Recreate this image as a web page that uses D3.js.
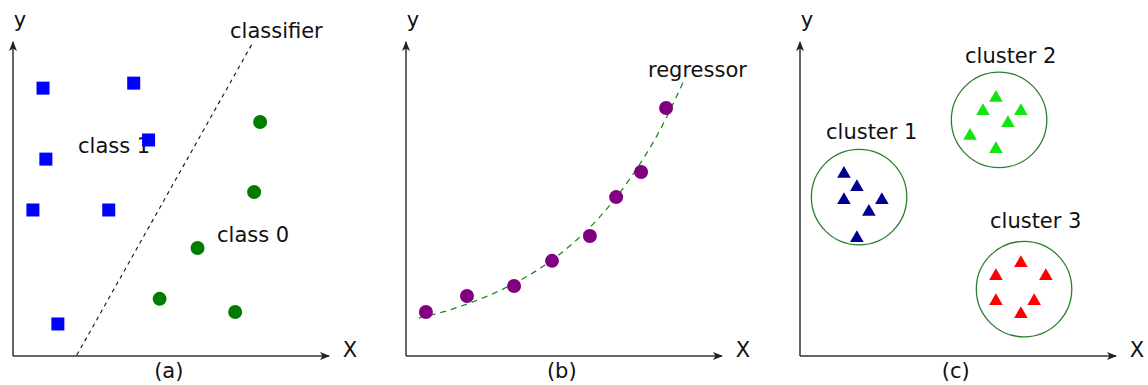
<!DOCTYPE html>
<html>
<head>
<meta charset="utf-8">
<script src="https://cdn.jsdelivr.net/npm/d3@7"></script>
<style>
  html, body { margin: 0; padding: 0; background: #fff; }
  svg { display: block; }
  text { font-family: "DejaVu Sans", sans-serif; fill: #111; }
</style>
</head>
<body>
<svg id="chart" width="1148" height="385"></svg>
<script>
// ---- data (units on a 0..10 grid for every panel) ----
const class1X = [0.95, 3.82, 4.29, 1.04, 0.63, 3.03, 1.42];
const class1Y = [8.53, 8.69, 6.88, 6.27, 4.65, 4.65, 1.02];
const class0X = [7.82, 7.63, 5.84, 4.64, 7.03];
const class0Y = [7.45, 5.22, 3.44, 1.82, 1.40];
const classifierX = [2.02, 7.60];
const classifierY = [0.03, 10.0];

const regX = [0.63, 1.93, 3.42, 4.62, 5.82, 6.65, 7.44, 8.23];
const regY = [1.40, 1.91, 2.23, 3.03, 3.82, 5.06, 5.86, 7.90];
const regressorX = [0.41, 1.39, 2.34, 3.29, 4.24, 5.19, 6.14, 7.09, 8.04, 8.83];
const regressorY = [1.21, 1.47, 1.81, 2.24, 2.79, 3.51, 4.44, 5.65, 7.20, 8.85];

const cluster1X = [1.39, 1.80, 1.39, 2.59, 2.18, 1.80];
const cluster1Y = [5.83, 5.41, 5.00, 5.00, 4.62, 3.79];
const cluster2X = [6.20, 5.79, 6.99, 6.58, 5.38, 6.20];
const cluster2Y = [8.25, 7.83, 7.83, 7.45, 7.04, 6.62];
const cluster3X = [6.99, 6.20, 7.78, 6.20, 7.41, 6.99];
const cluster3Y = [2.99, 2.58, 2.58, 1.78, 1.78, 1.37];
const clusterCx = [1.87, 6.30, 7.09];
const clusterCy = [5.06, 7.52, 2.13];
const clusterR = 1.52;
const clusterNames = ["cluster 1", "cluster 2", "cluster 3"];
const panelNames = ["(a)", "(b)", "(c)"];

// ---- layout ----
const svg = d3.select("#chart");
const panelLeft = [13, 406, 800];
const axisW = 316;
const yScale = d3.scaleLinear().domain([0, 10]).range([356, 42]);
const xScales = panelLeft.map(l => d3.scaleLinear().domain([0, 10]).range([l, l + axisW]));
const unit = (yScale(0) - yScale(1));

svg.append("defs").append("marker")
  .attr("id", "arrow")
  .attr("viewBox", "0 0 10 8")
  .attr("refX", 9).attr("refY", 4)
  .attr("markerWidth", 10).attr("markerHeight", 8)
  .attr("markerUnits", "userSpaceOnUse")
  .attr("orient", "auto")
  .append("path")
  .attr("d", "M0,0 L10,4 L0,8 L2.5,4 Z")
  .attr("fill", "#222");

// axes with arrowheads
xScales.forEach((x, i) => {
  const g = svg.append("g");
  g.append("line")
    .attr("x1", x(0)).attr("y1", yScale(0))
    .attr("x2", x(10)).attr("y2", yScale(0))
    .attr("stroke", "#333").attr("stroke-width", 1.5)
    .attr("marker-end", "url(#arrow)");
  g.append("line")
    .attr("x1", x(0)).attr("y1", yScale(0))
    .attr("x2", x(0)).attr("y2", yScale(10))
    .attr("stroke", "#333").attr("stroke-width", 1.5)
    .attr("marker-end", "url(#arrow)");
  g.append("text").attr("x", x(0) + 7).attr("y", 27)
    .attr("text-anchor", "middle").attr("font-size", 21).text("y");
  g.append("text").attr("x", x(10) + 21).attr("y", 357)
    .attr("text-anchor", "middle").attr("font-size", 21).text("X");
  g.append("text").attr("x", x(4.93)).attr("y", 378)
    .attr("text-anchor", "middle").attr("font-size", 21).text(panelNames[i]);
});

// ---- panel (a): classification ----
const xa = xScales[0];
svg.append("line")
  .attr("x1", xa(classifierX[0])).attr("y1", yScale(classifierY[0]))
  .attr("x2", xa(classifierX[1])).attr("y2", yScale(classifierY[1]))
  .attr("stroke", "#111").attr("stroke-width", 1.1)
  .attr("stroke-dasharray", "4,4");

const sq = 13;
svg.append("text").attr("x", 78).attr("y", 153).attr("font-size", 21).text("class 1");
svg.selectAll(".c1").data(class1X).enter().append("rect")
  .attr("x", (d, i) => xa(d) - sq / 2)
  .attr("y", (d, i) => yScale(class1Y[i]) - sq / 2)
  .attr("width", sq).attr("height", sq)
  .attr("fill", "#0000ff");
svg.selectAll(".c0").data(class0X).enter().append("circle")
  .attr("cx", d => xa(d))
  .attr("cy", (d, i) => yScale(class0Y[i]))
  .attr("r", 7)
  .attr("fill", "#007d00");
svg.append("text").attr("x", 217).attr("y", 242).attr("font-size", 21).text("class 0");
svg.append("text").attr("x", 230).attr("y", 38).attr("font-size", 21).text("classifier");

// ---- panel (b): regression ----
const xb = xScales[1];
const curve = d3.line()
  .x(d => xb(d[0])).y(d => yScale(d[1]))
  .curve(d3.curveMonotoneX);
svg.append("path")
  .attr("d", curve(regressorX.map((d, i) => [d, regressorY[i]])))
  .attr("fill", "none").attr("stroke", "#1f8a1f")
  .attr("stroke-width", 1.3).attr("stroke-dasharray", "6,5");
svg.selectAll(".rp").data(regX).enter().append("circle")
  .attr("cx", d => xb(d))
  .attr("cy", (d, i) => yScale(regY[i]))
  .attr("r", 7)
  .attr("fill", "#800080");
svg.append("text").attr("x", 648).attr("y", 77).attr("font-size", 21).text("regressor");

// ---- panel (c): clustering ----
const xc = xScales[2];
const tri = d3.symbol().type(d3.symbolTriangle).size(80);
const clusters = [
  { xs: cluster1X, ys: cluster1Y, color: "#00008f" },
  { xs: cluster2X, ys: cluster2Y, color: "#11e411" },
  { xs: cluster3X, ys: cluster3Y, color: "#ff0000" }
];
const labelPos = [[826, 139], [965, 63], [990, 228]];
clusters.forEach((c, k) => {
  svg.append("circle")
    .attr("cx", xc(clusterCx[k])).attr("cy", yScale(clusterCy[k]))
    .attr("r", clusterR * unit)
    .attr("fill", "none").attr("stroke", "#2b7f2b").attr("stroke-width", 1.3);
  svg.selectAll(".t" + k).data(c.xs).enter().append("path")
    .attr("d", tri)
    .attr("transform", (d, i) => `translate(${xc(d)},${yScale(c.ys[i]) + 1})`)
    .attr("fill", c.color);
  svg.append("text").attr("x", labelPos[k][0]).attr("y", labelPos[k][1])
    .attr("font-size", 21).text(clusterNames[k]);
});
</script>
</body>
</html>
